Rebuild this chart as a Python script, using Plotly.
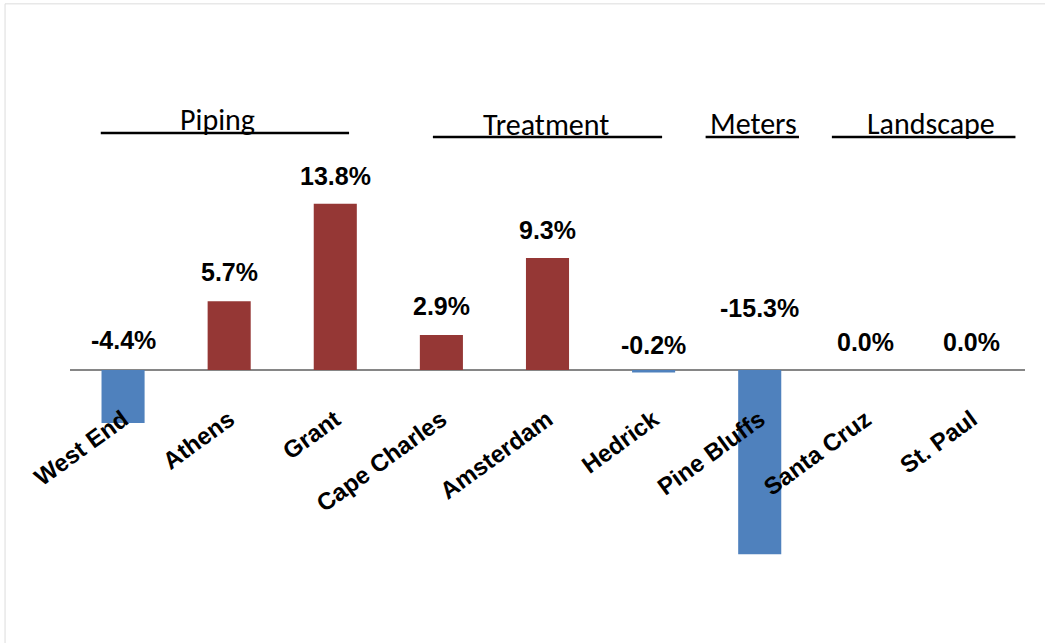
import plotly.graph_objects as go

# ---- data ----
categories = ["West End", "Athens", "Grant", "Cape Charles", "Amsterdam",
              "Hedrick", "Pine Bluffs", "Santa Cruz", "St. Paul"]
values = [-4.4, 5.7, 13.8, 2.9, 9.3, -0.2, -15.3, 0.0, 0.0]
value_labels = ["-4.4%", "5.7%", "13.8%", "2.9%", "9.3%", "-0.2%", "-15.3%", "0.0%", "0.0%"]
group_names = ["Piping", "Treatment", "Meters", "Landscape"]

# ---- styling / layout ----
RED = "#953735"
BLUE = "#4F81BD"
label_shift = [30, 29, 28, 29, 28, 25, 62, 28, 28]  # px above bar top / zero line
# group header layout: (text centre, line start, line end) in category units, (text y, line y) data units
group_layout = [
    (0.89, -0.21, 2.13, 20.8, 19.67),
    (3.99, 2.92, 5.08, 20.4, 19.34),
    (5.94, 5.49, 6.37, 20.5, 19.34),
    (7.61, 6.68, 8.41, 20.5, 19.34),
]
Y_MIN, Y_MAX = -22.66, 30.71

colors = [RED if v > 0 else BLUE for v in values]

fig = go.Figure()
fig.add_trace(go.Bar(x=categories, y=values, marker=dict(color=colors, line=dict(width=0)),
                     hoverinfo="skip"))

num_font = "Liberation Sans, Arial, sans-serif"
for cat, v, lab, sh in zip(categories, values, value_labels, label_shift):
    fig.add_annotation(x=cat, y=max(v, 0), text=f"<b>{lab}</b>", showarrow=False,
                       yshift=sh, xanchor="center", yanchor="middle",
                       font=dict(family=num_font, size=25, color="#000000"))

for name, (tx, x0, x1, ty, ly) in zip(group_names, group_layout):
    fig.add_annotation(x=tx, y=ty, xref="x", yref="y", text=name, showarrow=False,
                       xanchor="center", yanchor="middle",
                       font=dict(family="Carlito, Lato, sans-serif", size=30, color="#000000"))
    fig.add_shape(type="line", xref="x", yref="y", x0=x0, x1=x1, y0=ly, y1=ly,
                  line=dict(color="#000000", width=2.5))

# light outer border
fig.add_shape(type="rect", xref="paper", yref="paper", x0=-0.068, x1=1.1, y0=-0.1, y1=0.994,
              line=dict(color="#dcdcdc", width=1), layer="below")

zero_pos = -Y_MIN / (Y_MAX - Y_MIN)
fig.update_layout(
    template="none",
    width=1045, height=643,
    margin=dict(l=70, r=20, t=0, b=0),
    paper_bgcolor="white", plot_bgcolor="white",
    bargap=0.594,
    showlegend=False,
    xaxis=dict(anchor="free", position=zero_pos, showline=False, showgrid=False,
               zeroline=False, ticks="", tickangle=-36, ticklabelstandoff=30,
               tickfont=dict(family="Liberation Sans, Arial, sans-serif", size=24,
                             color="#000000", weight="bold"),
               automargin=False),
    yaxis=dict(range=[Y_MIN, Y_MAX], showticklabels=False, showgrid=False,
               zeroline=True, zerolinecolor="#868686", zerolinewidth=2,
               showline=False, ticks="", automargin=False),
)

fig.write_html("out.html")
